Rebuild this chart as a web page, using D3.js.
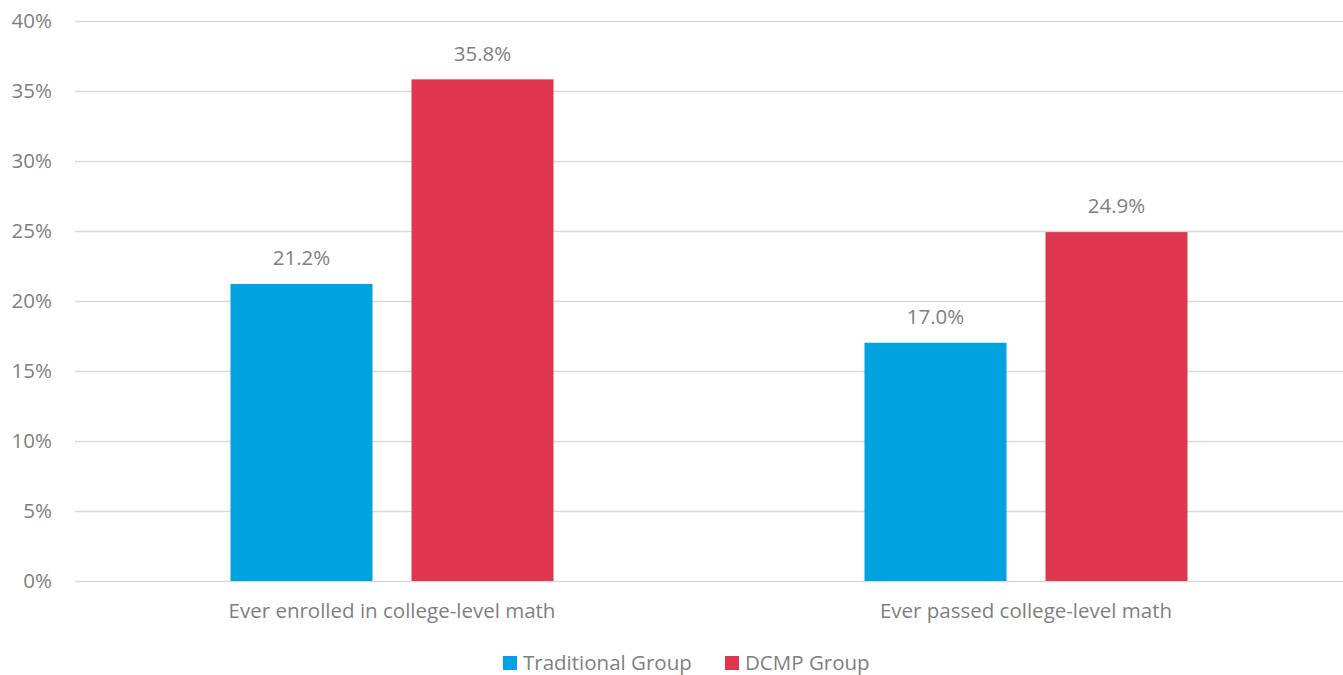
<!DOCTYPE html>
<html>
<head>
<meta charset="utf-8">
<script src="https://cdn.jsdelivr.net/npm/d3@7"></script>
<style>
  body { margin: 0; background: #fff; }
  text { font-family: "Open Sans", "Noto Sans", sans-serif; fill: #7f7f7f; }
</style>
</head>
<body>
<div id="chart"></div>
<script>
const categories = ["Ever enrolled in college-level math", "Ever passed college-level math"];
const seriesNames = ["Traditional Group", "DCMP Group"];
const traditionalValues = [21.2, 17.0];
const dcmpValues = [35.8, 24.9];
const yTicks = [0, 5, 10, 15, 20, 25, 30, 35, 40];
const colors = ["#00a2e0", "#e03750"];

const width = 1343, height = 675;
const margin = { top: 20, right: 0, bottom: 94, left: 75 };
const fontSize = "20.5px";

const svg = d3.select("#chart").append("svg")
    .attr("width", width)
    .attr("height", height);

const x = d3.scaleBand()
    .domain(categories)
    .range([margin.left, width - margin.right]);

const x1 = d3.scaleBand()
    .domain(seriesNames)
    .range([0, 323])
    .paddingInner(39 / 181);

const y = d3.scaleLinear()
    .domain([0, 40])
    .range([height - margin.bottom, margin.top + 0.5]);

// gridlines
svg.append("g")
    .selectAll("line")
    .data(yTicks)
    .enter()
    .append("line")
    .attr("x1", margin.left)
    .attr("x2", width - margin.right)
    .attr("y1", d => Math.round(y(d)) + 0.5)
    .attr("y2", d => Math.round(y(d)) + 0.5)
    .style("stroke", "#d9d9d9")
    .style("stroke-width", "1.5px");

// y tick labels
svg.append("g")
    .selectAll("text")
    .data(yTicks)
    .enter()
    .append("text")
    .attr("x", 52)
    .attr("y", d => y(d))
    .attr("dy", "0.35em")
    .style("text-anchor", "end")
    .style("font-size", fontSize)
    .text(d => d + "%");

const data = categories.map((c, i) => ({
    category: c,
    values: [
        { series: seriesNames[0], value: traditionalValues[i] },
        { series: seriesNames[1], value: dcmpValues[i] }
    ]
}));

const groups = svg.append("g")
    .selectAll("g")
    .data(data)
    .enter()
    .append("g")
    .attr("transform", d => `translate(${x(d.category) + (x.bandwidth() - 323) / 2},0)`);

groups.selectAll("rect")
    .data(d => d.values)
    .enter()
    .append("rect")
    .attr("x", d => x1(d.series))
    .attr("width", x1.bandwidth())
    .attr("y", d => y(d.value))
    .attr("height", d => y(0) - y(d.value))
    .style("fill", (d, i) => colors[i]);

groups.selectAll("text")
    .data(d => d.values)
    .enter()
    .append("text")
    .attr("x", d => x1(d.series) + x1.bandwidth() / 2)
    .attr("y", d => y(d.value) - 26)
    .attr("dy", "0.35em")
    .style("text-anchor", "middle")
    .style("font-size", fontSize)
    .text(d => d.value.toFixed(1) + "%");

// category labels
svg.append("g")
    .selectAll("text")
    .data(categories)
    .enter()
    .append("text")
    .attr("x", d => x(d) + x.bandwidth() / 2)
    .attr("y", 611)
    .attr("dy", "0.35em")
    .style("text-anchor", "middle")
    .style("font-size", fontSize)
    .text(d => d);

// legend
const legendX = [503, 725];
const legend = svg.append("g")
    .selectAll("g")
    .data(seriesNames)
    .enter()
    .append("g")
    .attr("transform", (d, i) => `translate(${legendX[i]},656)`);

legend.append("rect")
    .attr("width", 14)
    .attr("height", 14)
    .style("fill", (d, i) => colors[i]);

legend.append("text")
    .attr("x", 20)
    .attr("y", 7)
    .attr("dy", "0.33em")
    .style("font-size", fontSize)
    .text(d => d);
</script>
</body>
</html>
